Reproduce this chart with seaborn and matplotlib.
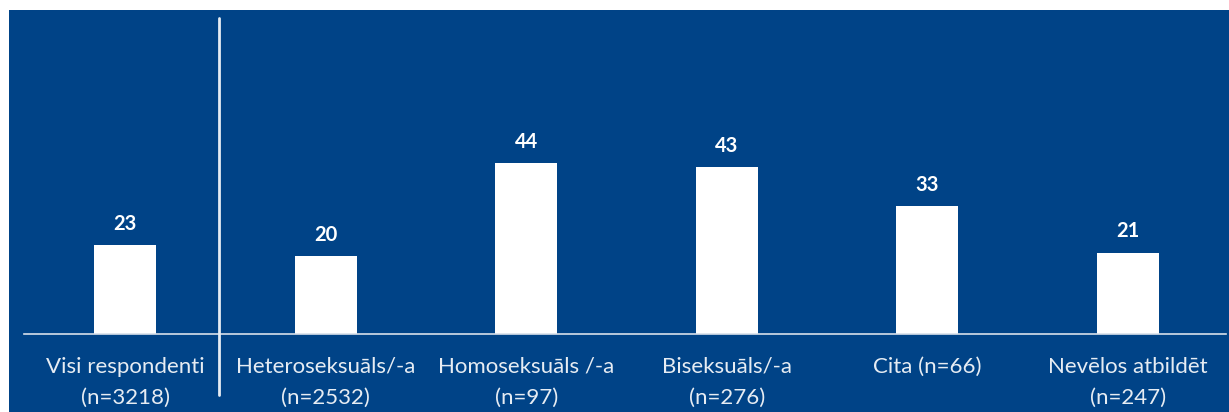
import matplotlib
matplotlib.use("Agg")
import matplotlib.pyplot as plt
import seaborn as sns
import pandas as pd
from matplotlib.patches import Rectangle
from matplotlib.lines import Line2D

categories = ["Visi respondenti\n(n=3218)", "Heteroseksuāls/-a\n(n=2532)",
              "Homoseksuāls /-a\n(n=97)", "Biseksuāls/-a\n(n=276)",
              "Cita (n=66)", "Nevēlos atbildēt\n(n=247)"]
values = [23, 20, 44, 43, 33, 21]

BLUE = "#004387"
sns.set_theme(style="white")
plt.rcParams['font.family'] = ['Lato', 'DejaVu Sans']

fig = plt.figure(figsize=(12.29, 4.12), dpi=100, facecolor="white")
W, H = 1229, 412
bg = Rectangle((9 / W, 0), 1 - 9 / W, 1 - 10 / H, transform=fig.transFigure,
               facecolor=BLUE, edgecolor="none", zorder=-10)
fig.add_artist(bg)
ax = fig.add_axes([25 / W, (H - 334) / H, 1203 / W, 324 / H])
ax.set_facecolor("none")
ax.set_zorder(1)

df = pd.DataFrame({"cat": categories, "val": values})
sns.barplot(data=df, x="cat", y="val", color="white", width=0.31, saturation=1,
            edgecolor="none", ax=ax)
ax.set_xlim(-0.5, 5.5)
ax.set_ylim(0, 83.5)
for i, v in enumerate(values):
    ax.annotate(str(v), (i, v), xytext=(0, 8), textcoords="offset points",
                ha="center", va="bottom", color="white", fontsize=14.5, fontweight="bold")

for s in ["top", "right", "left"]:
    ax.spines[s].set_visible(False)
ax.spines["bottom"].set_color("#D8E0EA")
ax.spines["bottom"].set_linewidth(1.2)
ax.spines["bottom"].set_bounds(-0.505, 5.49)
ax.set_yticks([])
ax.set_xlabel("")
ax.set_ylabel("")
ax.tick_params(axis="x", length=0, pad=16.5, colors="#E6ECF3", labelsize=16)
for t in ax.get_xticklabels():
    t.set_linespacing(1.7)
    t.set_verticalalignment("top")

fig.add_artist(Line2D([219 / W, 219 / W], [1 - 18 / H, 1 - 395 / H], transform=fig.transFigure,
                      color="#E6ECF3", linewidth=2, zorder=5))

fig.savefig("out.png", dpi=100, facecolor="white")
